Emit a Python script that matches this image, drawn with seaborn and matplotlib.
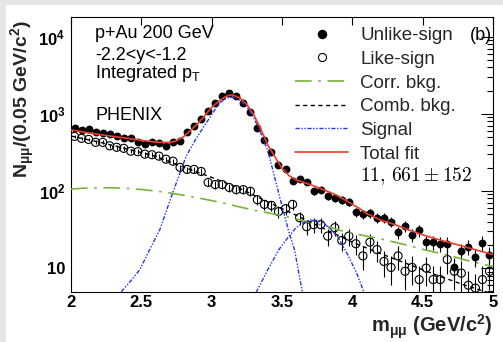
import numpy as np
import pandas as pd
import matplotlib
matplotlib.use('Agg')
import matplotlib.pyplot as plt
import seaborn as sns
from matplotlib.patches import Rectangle
from matplotlib.lines import Line2D
from matplotlib.ticker import FixedLocator, LogLocator, NullFormatter, NullLocator

# bin centres of the dimuon mass histogram (0.05 GeV/c^2 bins)
mass_bins = np.round(np.arange(2.025, 5.0, 0.05), 3)

unlike_counts = [655, 615, 638, 575, 556, 540, 510, 492, 481, 430,
                 407, 436, 424, 385, 430, 441, 575, 690, 845, 1075,
                 1400, 1685, 1850, 1685, 1400, 1045, 650, 464, 316, 219,
                 190, 134, 141, 129, 99, 104, 85, 82, 77, 72,
                 53, 50, 52, 45, 45, 40, 29, 35.5, 27, 31,
                 21.7, 21.7, 20.7, 20.7, 10.2, 16.7, 19, 14.1, 21.3, 15]
unlike_err = [24, 23, 24, 23, 22, 22, 21, 21, 21, 20,
              19, 20, 19, 19, 20, 20, 23, 25, 27, 31,
              35, 38, 40, 38, 35, 30, 24, 20, 17, 14,
              13, 11, 11, 11, 10, 10, 9, 9, 8.5, 8.2,
              7, 6.9, 7, 6.6, 6.6, 6.2, 5.3, 5.8, 5.1, 5.5,
              4.6, 4.6, 4.5, 4.5, 3.2, 4, 4.3, 3.7, 4.5, 3.8]

like_counts = [510, 481, 466, 427, 427, 385, 368, 357, 328, 323,
               300, 295, 283, 258, 243, 202, 190, 190, 179, 129,
               121, 121, 111, 104, 104, 99, 77, 67, 65, 54,
               59, 67, 45, 34.5, 36.6, 36.6, 26, 33.4, 22.8, 26,
               20.7, 14.4, 21.7, 17.4, 12.2, 10.2, 14.4, 9.1, 10.2, 7.1,
               10, 7.1, 7.1, 12.9, 9.1, 8.6, 6, 5.5, 7.1, 9.1]
like_err = [28, 27, 27, 25, 25, 24, 24, 23, 22, 22,
            21, 21, 21, 20, 19, 18, 17, 17, 17, 14,
            14, 14, 13, 13, 13, 12.5, 11, 10, 10, 9.3,
            9.7, 10, 8.5, 7.5, 7.7, 7.7, 6.5, 7.4, 6.1, 6.5,
            5.8, 4.9, 6, 5.3, 4.5, 4.1, 4.9, 3.9, 4.1, 3.4,
            4.1, 3.4, 3.4, 4.6, 3.9, 3.8, 3.2, 3, 3.4, 3.9]

# fit components
fit_x = [2.0, 2.1, 2.2, 2.3, 2.4, 2.5, 2.6, 2.7, 2.75, 2.8, 2.85, 2.9, 2.95, 3.0,
         3.05, 3.1, 3.13, 3.15, 3.2, 3.25, 3.3, 3.35, 3.4, 3.45, 3.5, 3.55, 3.6,
         3.65, 3.7, 3.75, 3.8, 3.85, 3.9, 3.95, 4.0, 4.05, 4.1, 4.15, 4.2, 4.3,
         4.4, 4.5, 4.6, 4.7, 4.8, 4.9, 5.0]
fit_total = [620, 575, 540, 510, 481, 453, 430, 424, 447, 503, 610, 745, 940, 1215,
             1450, 1675, 1755, 1745, 1615, 1320, 965, 632, 390, 276, 197, 158, 139,
             130, 121, 112, 103, 94.5, 86, 76, 67, 59.5, 51, 46.5, 42, 36.8,
             31.3, 27, 23.8, 21.2, 18.9, 16.8, 15]

jpsi_x = [2.30, 2.36, 2.43, 2.49, 2.56, 2.63, 2.70, 2.77, 2.82, 2.88, 2.94, 3.00,
          3.05, 3.10, 3.13, 3.16, 3.20, 3.25, 3.30, 3.35, 3.40, 3.45, 3.50, 3.55,
          3.59, 3.62, 3.66]
jpsi_sig = [3.8, 5, 7, 9.6, 17.5, 31, 72, 163, 285, 447, 666, 970,
            1355, 1580, 1640, 1618, 1500, 1235, 885, 560, 330, 145, 63.5, 29,
            17, 8.5, 3.5]

psi2s_x = [3.28, 3.32, 3.40, 3.48, 3.55, 3.60, 3.65, 3.70, 3.75, 3.80, 3.85, 3.90,
           3.96, 4.03, 4.08, 4.12]
psi2s_sig = [3.5, 5, 9.6, 17.6, 26, 33.4, 38.8, 42, 41.5, 37.7, 31.3, 24.9,
             15.8, 8.7, 5, 3.6]

corr_x = [2.0, 2.1, 2.2, 2.3, 2.4, 2.5, 2.6, 2.7, 2.8, 2.9, 3.0, 3.1, 3.2, 3.3, 3.4, 3.5,
          3.6, 3.7, 3.8, 3.9, 4.0, 4.1, 4.2, 4.3, 4.4, 4.5, 4.6, 4.7, 4.8, 4.9, 5.0]
corr_bkg = [105.6, 109, 110, 110, 107.8, 104.5, 100, 94.5, 88, 81.5, 75, 68.5, 62, 56.5,
            52, 47.8, 43.5, 39, 35.7, 31.3, 28.2, 26, 23.9, 21.7, 19.6, 17.5, 15.9,
            14.4, 12.8, 11.5, 10.5]

comb_x = [2.0, 2.2, 2.4, 2.6, 2.8, 3.0, 3.2, 3.4, 3.6, 3.8, 4.0, 4.2, 4.4, 4.6, 4.8, 5.0]
comb_bkg = [515, 430, 350, 283, 204, 150, 108, 72, 48.5, 32.3, 21.7, 15.4, 11.2, 8.1, 6, 4.6]

info_lines = ['p+Au 200 GeV', '-2.2<y<-1.2', 'Integrated p$_{\\mathregular{T}}$']

sns.set_theme(style='white')
plt.rcParams['font.family'] = ['Liberation Sans', 'DejaVu Sans']
plt.rcParams['mathtext.fontset'] = 'custom'
plt.rcParams['mathtext.rm'] = 'Liberation Sans'
plt.rcParams['mathtext.it'] = 'Liberation Sans:italic'
plt.rcParams['mathtext.bf'] = 'Liberation Sans:bold'

RED = '#ee3b2b'
BLUE = '#2433f5'
GREEN = '#76b43a'

fig = plt.figure(figsize=(5.03, 3.42), dpi=100, facecolor='#e6e6e6')
fig.add_artist(Rectangle((6 / 503, 0), 1, 1 - 5 / 342, transform=fig.transFigure,
                         facecolor='white', edgecolor='none', zorder=-10))
ax = fig.add_axes([71 / 503, 1 - 292 / 342, 422 / 503, 275 / 342])
ax.set_facecolor('white')

pts = pd.DataFrame({'mass': mass_bins, 'unlike': unlike_counts, 'like': like_counts})

ax.errorbar(mass_bins, like_counts, yerr=like_err, fmt='none', ecolor='black',
            elinewidth=0.8, capsize=0, zorder=2)
ax.errorbar(mass_bins, unlike_counts, yerr=unlike_err, fmt='none', ecolor='black',
            elinewidth=0.8, capsize=0, zorder=2)
sns.scatterplot(data=pts, x='mass', y='like', ax=ax, marker='o', s=34,
                facecolors='none', edgecolor='black', linewidth=0.8, zorder=3, legend=False)
sns.scatterplot(data=pts, x='mass', y='unlike', ax=ax, marker='o', s=32,
                color='black', edgecolor='black', linewidth=0, zorder=3, legend=False)

ls_corr = (0, (10, 4, 1.5, 4))
ls_comb = (0, (3, 2.5))
ls_sig = (0, (3, 1.2, 1, 1.2, 1, 1.2))

sns.lineplot(x=corr_x, y=corr_bkg, ax=ax, color=GREEN, lw=1.2, linestyle=ls_corr, zorder=4)
sns.lineplot(x=comb_x, y=comb_bkg, ax=ax, color='black', lw=1.0, linestyle=ls_comb, zorder=4)
sns.lineplot(x=jpsi_x, y=jpsi_sig, ax=ax, color=BLUE, lw=1.0, linestyle=ls_sig, zorder=4)
sns.lineplot(x=psi2s_x, y=psi2s_sig, ax=ax, color=BLUE, lw=1.0, linestyle=ls_sig, zorder=4)
sns.lineplot(x=fit_x, y=fit_total, ax=ax, color=RED, lw=1.2, zorder=5)

ax.set_yscale('log')
ax.set_xlim(2, 5)
ax.set_ylim(4.9, 1.8e4)

ax.xaxis.set_major_locator(FixedLocator([2, 2.5, 3, 3.5, 4, 4.5, 5]))
ax.set_xticklabels(['2', '2.5', '3', '3.5', '4', '4.5', '5'], fontweight='bold', fontsize=12)
ax.xaxis.set_minor_locator(NullLocator())
ax.yaxis.set_major_locator(FixedLocator([10, 100, 1000, 10000]))
ax.set_yticklabels(['10', '10$^{\\mathbf{2}}$', '10$^{\\mathbf{3}}$', '10$^{\\mathbf{4}}$'],
                   fontweight='bold', fontsize=12)
ax.yaxis.set_minor_locator(LogLocator(base=10, subs=range(2, 10)))
ax.yaxis.set_minor_formatter(NullFormatter())

ax.tick_params(which='both', direction='in', top=True, right=True, colors='black', width=0.8)
ax.tick_params(axis='x', which='major', length=5.8, pad=2)
ax.tick_params(axis='y', which='major', length=8.6, pad=4)
ax.tick_params(axis='y', which='minor', length=4.3)
for sp in ax.spines.values():
    sp.set_color('black')
    sp.set_linewidth(0.8)

ax.set_xlabel('m$_{\\mathbf{\\mu\\mu}}$ (GeV/c$^{\\mathbf{2}}$)', fontweight='bold',
              fontsize=14.5, loc='right', labelpad=2)
ax.set_ylabel('N$_{\\mathbf{\\mu\\mu}}$/(0.05 GeV/c$^{\\mathbf{2}}$)', fontweight='bold',
              fontsize=14, loc='top')
ax.yaxis.set_label_coords((37 - 71) / 422, (292 - 20) / 275)

for txt, ypx in zip(info_lines, [33, 55, 74]):
    ax.text(0.057, (292 - ypx) / 275, txt, transform=ax.transAxes, fontsize=13,
            va='center', ha='left', color='black')
ax.text(0.057, (292 - 115) / 275, 'PHENIX', transform=ax.transAxes, fontsize=13,
        va='center', ha='left', color='black')
ax.text(0.998, (292 - 35) / 275, '(b)', transform=ax.transAxes, fontsize=13,
        va='center', ha='right', color='black')
ax.text((360 - 71) / 422, (292 - 176) / 275, r'$11,\,661\pm152$', transform=ax.transAxes,
        fontsize=14, va='center', ha='left', color='black', math_fontfamily='cm')

handles = [
    Line2D([], [], ls='none', marker='o', ms=5.8, mfc='black', mec='black'),
    Line2D([], [], ls='none', marker='o', ms=5.8, mfc='none', mec='black', mew=0.8),
    Line2D([], [], color=GREEN, lw=1.2, ls=ls_corr),
    Line2D([], [], color='black', lw=1.0, ls=ls_comb),
    Line2D([], [], color=BLUE, lw=1.0, ls=ls_sig),
    Line2D([], [], color=RED, lw=1.2),
]
labels = ['Unlike-sign', 'Like-sign', 'Corr. bkg.', 'Comb. bkg.', 'Signal', 'Total fit']
ax.legend(handles, labels, loc='upper left', bbox_to_anchor=((295 - 71) / 422, (292 - 27) / 275),
          frameon=False, fontsize=13.5, borderpad=0, borderaxespad=0, handlelength=2.83,
          handletextpad=0.64, labelspacing=0.35)

fig.savefig('out.png', dpi=100, facecolor=fig.get_facecolor())
